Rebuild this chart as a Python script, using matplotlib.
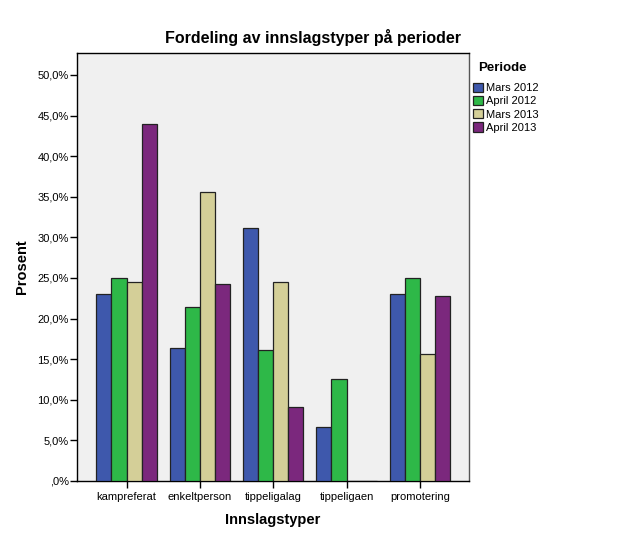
import matplotlib.pyplot as plt
import numpy as np
from matplotlib.patches import Patch
from matplotlib.ticker import FuncFormatter

plt.rcParams["font.family"] = ["Liberation Sans", "DejaVu Sans"]

categories = ["kampreferat", "enkeltperson", "tippeligalag", "tippeligaen", "promotering"]
periods = ["Mars 2012", "April 2012", "Mars 2013", "April 2013"]
mars_2012 = [23.0, 16.4, 31.2, 6.6, 23.0]
april_2012 = [25.0, 21.4, 16.1, 12.5, 25.0]
mars_2013 = [24.5, 35.6, 24.5, 0.0, 15.6]
april_2013 = [44.0, 24.2, 9.1, 0.0, 22.8]
colors = ["#3E58AC", "#2EB848", "#D4CF98", "#7B287D"]

series = [mars_2012, april_2012, mars_2013, april_2013]


def pct(v, _):
    s = ("%.1f%%" % v).replace(".", ",")
    return s.lstrip("0") if v == 0 else s


fig = plt.figure(figsize=(6.26, 5.41), dpi=100)
ax = fig.add_axes([77 / 626, 1 - 481 / 541, (469 - 77) / 626, (481 - 53) / 541])
ax.set_facecolor("#F0F0F0")

x = np.arange(len(categories))
w = 0.205
for i, (vals, col) in enumerate(zip(series, colors)):
    ax.bar(x + (i - 1.5) * w, vals, width=w, color=col, edgecolor="#222222",
           linewidth=0.9, zorder=3)

ax.set_xlim(-0.675, len(categories) - 1 + 0.67)
ax.set_ylim(0, 52.7)
ax.set_yticks(np.arange(0, 51, 5))
ax.yaxis.set_major_formatter(FuncFormatter(pct))
ax.set_xticks(x)
ax.set_xticklabels(categories)
ax.tick_params(axis="both", direction="out", length=5, width=1, labelsize=8, colors="black")
ax.tick_params(axis="y", pad=1)
ax.tick_params(axis="x", pad=3)

for s in ax.spines.values():
    s.set_linewidth(1.0)
    s.set_color("black")
ax.spines["right"].set_color("#555555")

ax.set_xlabel("Innslagstyper", fontsize=10.5, fontweight="bold", labelpad=8)
ax.set_ylabel("Prosent", fontsize=10.5, fontweight="bold", labelpad=6)
fig.text(0.5, 1 - 37 / 541, "Fordeling av innslagstyper på perioder",
         ha="center", va="center", fontsize=11.5, fontweight="bold")

handles = [Patch(facecolor=c, edgecolor="#222222", linewidth=0.9) for c in colors]
leg = fig.legend(handles, periods, loc="upper left", bbox_to_anchor=(469 / 626, 1 - 58 / 541),
                 frameon=False, fontsize=8, title="Periode", handlelength=0.9,
                 handleheight=0.9, handletextpad=0.2, labelspacing=0.25,
                 borderaxespad=0, alignment="left")
leg.get_title().set_fontweight("bold")
leg.get_title().set_fontsize(9.5)
leg._legend_box.sep = 6
leg.get_title().set_x(5)

fig.savefig("out.png", dpi=100)
